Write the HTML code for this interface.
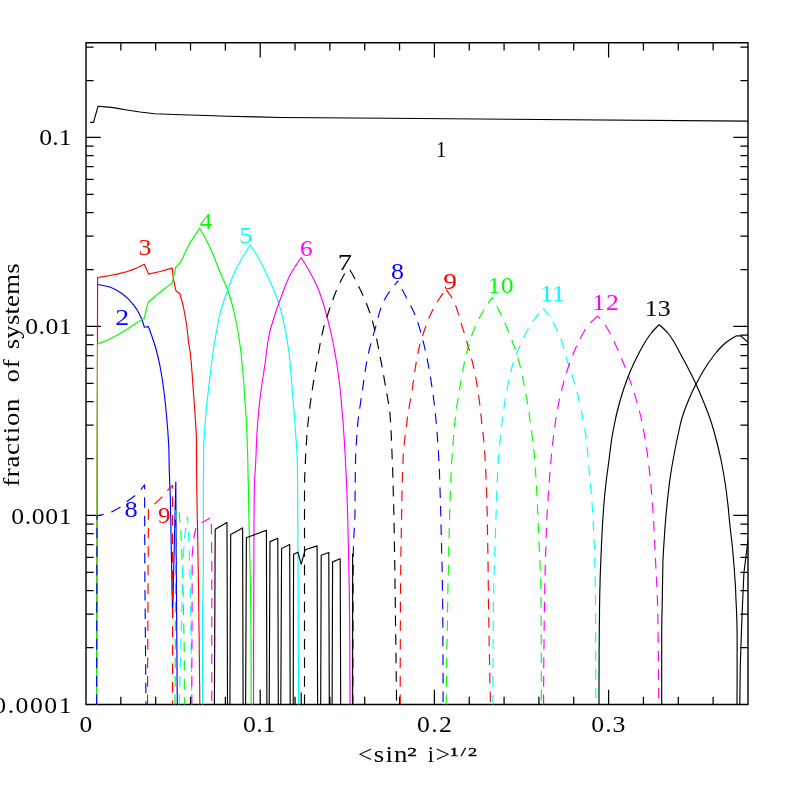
<!DOCTYPE html>
<html><head><meta charset="utf-8"><title>plot</title>
<style>html,body{margin:0;padding:0;background:#fff;width:789px;height:789px;overflow:hidden}svg{display:block;position:absolute;left:0;top:0}text{font-family:"Liberation Serif",serif;font-kerning:none;white-space:pre}</style></head>
<body>
<svg width="789" height="789" viewBox="0 0 789 789">
<rect x="0" y="0" width="789" height="789" fill="#fff"/>
<defs><clipPath id="c"><rect x="86" y="42.8" width="662" height="661.65"/></clipPath></defs>
<rect x="86" y="42.8" width="662" height="661.65" fill="none" stroke="#000" stroke-width="1.4" stroke-linejoin="round"/>
<path d="M120.84 704.45L120.84 696.85M120.84 42.80L120.84 50.40M155.68 704.45L155.68 696.85M155.68 42.80L155.68 50.40M190.52 704.45L190.52 696.85M190.52 42.80L190.52 50.40M225.36 704.45L225.36 696.85M225.36 42.80L225.36 50.40M260.20 704.45L260.20 689.65M260.20 42.80L260.20 57.60M295.04 704.45L295.04 696.85M295.04 42.80L295.04 50.40M329.88 704.45L329.88 696.85M329.88 42.80L329.88 50.40M364.72 704.45L364.72 696.85M364.72 42.80L364.72 50.40M399.56 704.45L399.56 696.85M399.56 42.80L399.56 50.40M434.40 704.45L434.40 689.65M434.40 42.80L434.40 57.60M469.24 704.45L469.24 696.85M469.24 42.80L469.24 50.40M504.08 704.45L504.08 696.85M504.08 42.80L504.08 50.40M538.92 704.45L538.92 696.85M538.92 42.80L538.92 50.40M573.76 704.45L573.76 696.85M573.76 42.80L573.76 50.40M608.60 704.45L608.60 689.65M608.60 42.80L608.60 57.60M643.44 704.45L643.44 696.85M643.44 42.80L643.44 50.40M678.28 704.45L678.28 696.85M678.28 42.80L678.28 50.40M713.12 704.45L713.12 696.85M713.12 42.80L713.12 50.40M86.00 647.51L93.60 647.51M748.00 647.51L740.40 647.51M86.00 614.22L93.60 614.22M748.00 614.22L740.40 614.22M86.00 590.61L93.60 590.61M748.00 590.61L740.40 590.61M86.00 572.29L93.60 572.29M748.00 572.29L740.40 572.29M86.00 557.33L93.60 557.33M748.00 557.33L740.40 557.33M86.00 544.68L93.60 544.68M748.00 544.68L740.40 544.68M86.00 533.72L93.60 533.72M748.00 533.72L740.40 533.72M86.00 524.05L93.60 524.05M748.00 524.05L740.40 524.05M86.00 515.40L100.80 515.40M748.00 515.40L733.20 515.40M86.00 458.51L93.60 458.51M748.00 458.51L740.40 458.51M86.00 425.22L93.60 425.22M748.00 425.22L740.40 425.22M86.00 401.61L93.60 401.61M748.00 401.61L740.40 401.61M86.00 383.29L93.60 383.29M748.00 383.29L740.40 383.29M86.00 368.33L93.60 368.33M748.00 368.33L740.40 368.33M86.00 355.68L93.60 355.68M748.00 355.68L740.40 355.68M86.00 344.72L93.60 344.72M748.00 344.72L740.40 344.72M86.00 335.05L93.60 335.05M748.00 335.05L740.40 335.05M86.00 326.40L100.80 326.40M748.00 326.40L733.20 326.40M86.00 269.51L93.60 269.51M748.00 269.51L740.40 269.51M86.00 236.22L93.60 236.22M748.00 236.22L740.40 236.22M86.00 212.61L93.60 212.61M748.00 212.61L740.40 212.61M86.00 194.29L93.60 194.29M748.00 194.29L740.40 194.29M86.00 179.33L93.60 179.33M748.00 179.33L740.40 179.33M86.00 166.68L93.60 166.68M748.00 166.68L740.40 166.68M86.00 155.72L93.60 155.72M748.00 155.72L740.40 155.72M86.00 146.05L93.60 146.05M748.00 146.05L740.40 146.05M86.00 137.40L100.80 137.40M748.00 137.40L733.20 137.40M86.00 80.51L93.60 80.51M748.00 80.51L740.40 80.51M86.00 47.22L93.60 47.22M748.00 47.22L740.40 47.22" stroke="#000" stroke-width="1.25" fill="none"/>
<g clip-path="url(#c)">
<path d="M90.1 122.3L93.5 122.3L98.0 106.3L103.0 106.6L113.2 107.6L128.4 110.2L140.0 112.0L154.8 113.8L181.4 114.7L206.7 115.5L227.0 116.2L257.4 116.9L280.0 117.5L389.0 118.3L748.5 121.2" stroke="#000000" stroke-width="1.15" fill="none" stroke-linejoin="round"/>
<path d="M97.7 284.5L101.9 285.2L108.8 286.7L112.8 288.2L115.8 289.7L118.3 291.2L120.7 292.7L122.8 294.2L124.7 295.7L126.4 297.2L129.4 300.2L132.0 303.2L134.5 306.2L136.6 309.2L138.4 312.2L139.9 315.2L141.3 318.2L142.4 321.2L143.5 324.2L144.3 327.2L148.4 326.6L148.7 327.5L149.3 329.0L149.9 330.5L150.4 332.0L150.9 333.5L151.5 335.0L152.0 336.5L152.5 338.0L153.0 339.5L153.5 341.0L154.5 344.0L155.4 347.0L156.2 350.0L157.0 353.0L157.8 356.0L158.5 359.0L159.1 362.0L159.8 365.0L160.3 368.0L160.9 371.0L161.4 374.0L161.9 377.0L162.4 380.0L162.8 383.0L163.6 389.0L164.4 395.0L165.1 401.0L165.7 407.0L166.3 413.0L166.8 419.0L167.3 425.0L167.8 431.0L168.2 437.0L168.6 443.0L168.9 449.0L169.0 455.0L169.1 461.0L169.2 467.0L169.4 473.0L169.6 479.0L169.8 485.0L170.1 491.0L170.3 497.0L170.4 503.0L170.5 509.0L170.6 515.0L170.8 521.0L170.9 527.0L171.0 533.0L171.1 539.0L171.2 545.0L171.3 551.0L171.4 557.0L171.6 563.0L171.7 569.0L171.8 575.0L171.9 581.0L172.0 587.0L172.1 593.0L172.3 599.0L172.4 605.0L172.5 611.0L172.6 617.0L175.8 482.0L176.6 610.0L177.3 706.0" stroke="#0000ff" stroke-width="1.15" fill="none" stroke-linejoin="round"/>
<path d="M96.6 706.0L97.6 277.5L104.0 276.6L110.0 275.5L118.0 273.9L126.5 271.7L132.0 269.9L138.0 267.5L144.3 264.3L148.6 274.1L160.0 271.5L172.3 268.1L173.4 279.1L175.9 290.7L180.0 294.0L180.3 295.0L180.7 296.5L181.1 298.0L181.5 299.5L181.9 301.0L182.3 302.5L182.7 304.0L183.0 305.5L183.4 307.0L184.0 310.0L184.6 313.0L185.1 316.0L185.7 319.0L186.1 322.0L186.6 325.0L187.0 328.0L187.4 331.0L187.7 334.0L188.0 337.0L188.3 340.0L188.7 343.0L189.1 346.0L189.7 349.0L190.2 352.0L190.8 358.0L191.4 364.0L191.8 370.0L192.3 376.0L192.7 382.0L193.1 388.0L193.6 394.0L194.0 400.0L194.5 406.0L194.9 412.0L195.3 418.0L195.7 424.0L196.0 430.0L196.3 436.0L196.5 442.0L196.5 448.0L196.5 454.0L196.6 460.0L196.6 466.0L196.6 472.0L196.7 478.0L196.7 484.0L196.8 490.0L196.9 496.0L197.0 502.0L197.1 508.0L197.2 514.0L197.3 520.0L197.5 526.0L197.6 532.0L197.7 538.0L197.8 544.0L197.9 550.0L198.0 556.0L198.1 562.0L198.2 568.0L198.3 574.0L198.4 580.0L198.5 586.0L198.5 592.0L198.6 598.0L198.7 604.0L198.8 610.0L198.9 616.0L198.9 622.0L199.0 628.0L199.1 634.0L199.2 640.0L199.2 646.0L199.3 652.0L199.4 658.0L199.4 664.0L199.5 670.0L199.5 676.0L199.6 682.0L199.7 688.0L199.7 694.0L199.8 700.0L199.8 706.0" stroke="#ff0000" stroke-width="1.15" fill="none" stroke-linejoin="round"/>
<path d="M96.6 706.0L97.5 343.9L108.5 339.7L117.4 335.0L127.5 328.9L137.0 322.6L144.3 318.2L148.2 302.2L156.0 295.5L165.5 288.0L172.3 282.9L175.6 267.3L180.5 262.3L189.3 243.9L199.8 228.1L200.3 229.0L201.2 230.5L202.0 232.0L202.8 233.5L203.6 235.0L204.4 236.5L205.2 238.0L206.0 239.5L206.8 241.0L208.3 244.0L209.7 247.0L211.1 250.0L212.4 253.0L213.6 256.0L214.8 259.0L216.0 262.0L217.2 265.0L218.4 268.0L219.6 271.0L220.8 274.0L222.1 277.0L223.5 280.0L224.8 283.0L226.2 286.0L228.4 292.0L230.3 298.0L232.0 304.0L233.6 310.0L234.9 316.0L236.2 322.0L237.3 328.0L238.4 334.0L239.3 340.0L240.1 346.0L240.9 352.0L241.5 358.0L242.1 364.0L242.7 370.0L243.2 376.0L243.7 382.0L244.1 388.0L244.5 394.0L244.9 400.0L245.3 406.0L245.7 412.0L246.1 418.0L246.4 424.0L246.8 430.0L247.0 436.0L247.2 442.0L247.4 448.0L247.6 454.0L247.8 460.0L247.9 466.0L248.0 472.0L248.1 478.0L248.3 484.0L248.4 490.0L248.5 496.0L248.6 502.0L248.7 508.0L248.8 514.0L249.0 520.0L249.1 526.0L249.3 532.0L249.4 538.0L249.6 544.0L249.7 550.0L249.8 556.0L250.0 562.0L250.1 568.0L250.2 574.0L250.3 580.0L250.4 586.0L250.5 592.0L250.6 598.0L250.7 604.0L250.8 610.0L250.8 616.0L250.9 622.0L250.9 628.0L251.0 634.0L251.0 640.0L251.0 646.0L251.0 652.0L251.0 658.0L251.1 664.0L251.1 670.0L251.1 676.0L251.1 682.0L251.1 688.0L251.1 694.0L251.1 700.0L251.1 706.0" stroke="#00ff00" stroke-width="1.15" fill="none" stroke-linejoin="round"/>
<path d="M202.5 706.0L202.5 700.0L202.5 694.0L202.5 688.0L202.5 682.0L202.5 676.0L202.5 670.0L202.5 664.0L202.5 658.0L202.5 652.0L202.5 646.0L202.5 640.0L202.5 634.0L202.5 628.0L202.5 622.0L202.5 616.0L202.6 610.0L202.7 604.0L202.8 598.0L202.9 592.0L203.0 586.0L203.1 580.0L203.2 574.0L203.2 568.0L203.2 562.0L203.3 556.0L203.3 550.0L203.3 544.0L203.3 538.0L203.3 532.0L203.3 526.0L203.4 520.0L203.4 514.0L203.4 508.0L203.4 502.0L203.4 496.0L203.4 490.0L203.4 484.0L203.5 478.0L203.5 472.0L203.5 466.0L203.5 460.0L203.6 454.0L203.7 448.0L203.9 442.0L204.3 436.0L204.6 430.0L205.1 424.0L205.5 418.0L206.0 412.0L206.6 406.0L207.3 400.0L208.0 394.0L208.6 388.0L209.3 382.0L210.0 376.0L210.7 370.0L211.5 364.0L212.3 358.0L213.1 352.0L214.0 346.0L215.0 340.0L216.0 334.0L217.1 328.0L218.2 322.0L219.5 316.0L221.0 310.0L222.8 304.0L223.8 301.0L224.8 298.0L225.9 295.0L227.0 292.0L228.1 289.0L229.2 286.0L230.2 283.0L231.3 280.0L232.5 277.0L233.7 274.0L235.1 271.0L236.5 268.0L238.1 265.0L239.8 262.0L241.5 259.0L242.4 257.5L243.3 256.0L244.2 254.5L245.1 253.0L246.0 251.5L247.0 250.0L248.0 248.5L249.0 247.0L250.0 245.5L250.3 245.0L250.6 245.5L251.6 247.0L252.6 248.5L253.6 250.0L254.5 251.5L255.5 253.0L256.4 254.5L257.3 256.0L258.1 257.5L259.0 259.0L260.6 262.0L262.2 265.0L263.7 268.0L265.2 271.0L266.6 274.0L268.0 277.0L269.3 280.0L270.7 283.0L272.0 286.0L273.3 289.0L274.6 292.0L275.8 295.0L276.9 298.0L278.0 301.0L278.9 304.0L280.7 310.0L282.3 316.0L283.7 322.0L284.9 328.0L286.1 334.0L287.1 340.0L288.0 346.0L288.9 352.0L289.6 358.0L290.2 364.0L290.7 370.0L291.2 376.0L291.7 382.0L292.1 388.0L292.6 394.0L293.1 400.0L293.6 406.0L294.1 412.0L294.6 418.0L295.0 424.0L295.4 430.0L295.8 436.0L296.3 442.0L296.7 448.0L297.0 454.0L297.3 460.0L297.4 466.0L297.5 472.0L297.5 478.0L297.6 484.0L297.6 490.0L297.7 496.0L297.7 502.0L297.8 508.0L297.8 514.0L297.8 520.0L297.9 526.0L297.9 532.0L297.9 538.0L297.9 544.0L298.0 550.0L298.0 556.0L298.0 562.0L298.0 568.0L298.0 574.0L298.1 580.0L298.1 586.0L298.1 592.0L298.1 598.0L298.2 604.0L298.2 610.0L298.2 616.0L298.2 622.0L298.3 628.0L298.3 634.0L298.3 640.0L298.3 646.0L298.3 652.0L298.4 658.0L298.4 664.0L298.4 670.0L298.4 676.0L298.4 682.0L298.5 688.0L298.5 694.0L298.5 700.0L298.5 706.0" stroke="#00ffff" stroke-width="1.15" fill="none" stroke-linejoin="round"/>
<path d="M253.5 706.0L253.5 700.0L253.5 694.0L253.5 688.0L253.5 682.0L253.6 676.0L253.6 670.0L253.6 664.0L253.6 658.0L253.6 652.0L253.6 646.0L253.6 640.0L253.7 634.0L253.7 628.0L253.7 622.0L253.7 616.0L253.7 610.0L253.8 604.0L253.8 598.0L253.8 592.0L253.8 586.0L253.8 580.0L253.8 574.0L253.9 568.0L253.9 562.0L253.9 556.0L253.9 550.0L253.9 544.0L254.0 538.0L254.0 532.0L254.0 526.0L254.0 520.0L254.1 514.0L254.1 508.0L254.2 502.0L254.2 496.0L254.3 490.0L254.4 484.0L254.7 478.0L255.1 472.0L255.5 466.0L255.8 460.0L256.1 454.0L256.3 448.0L256.6 442.0L256.8 436.0L257.2 430.0L257.6 424.0L258.1 418.0L258.6 412.0L259.2 406.0L259.9 400.0L260.6 394.0L261.4 388.0L262.2 382.0L263.2 376.0L264.1 370.0L265.0 364.0L265.8 358.0L266.5 352.0L267.3 346.0L268.2 340.0L269.3 334.0L270.8 328.0L272.6 322.0L274.5 316.0L275.4 313.0L276.4 310.0L277.5 307.0L278.5 304.0L279.6 301.0L280.8 298.0L281.9 295.0L283.0 292.0L284.1 289.0L285.2 286.0L286.5 283.0L287.7 280.0L289.1 277.0L290.7 274.0L292.4 271.0L293.2 269.5L294.2 268.0L295.1 266.5L296.1 265.0L297.1 263.5L298.1 262.0L299.1 260.5L300.2 259.0L301.2 257.6L302.1 259.0L303.1 260.5L304.0 262.0L304.9 263.5L305.8 265.0L306.7 266.5L307.6 268.0L308.5 269.5L309.3 271.0L310.9 274.0L312.6 277.0L314.1 280.0L315.6 283.0L317.0 286.0L318.2 289.0L319.4 292.0L320.5 295.0L321.5 298.0L322.5 301.0L323.4 304.0L324.3 307.0L325.2 310.0L326.0 313.0L326.8 316.0L328.4 322.0L329.9 328.0L331.2 334.0L332.5 340.0L333.7 346.0L334.8 352.0L335.8 358.0L336.8 364.0L337.7 370.0L338.5 376.0L339.3 382.0L340.0 388.0L340.6 394.0L341.2 400.0L341.7 406.0L342.2 412.0L342.7 418.0L343.2 424.0L343.6 430.0L344.0 436.0L344.4 442.0L344.7 448.0L345.1 454.0L345.4 460.0L345.7 466.0L346.0 472.0L346.3 478.0L346.6 484.0L346.8 490.0L347.0 496.0L347.2 502.0L347.4 508.0L347.6 514.0L347.8 520.0L347.9 526.0L348.0 532.0L348.2 538.0L348.3 544.0L348.4 550.0L348.6 556.0L348.7 562.0L348.8 568.0L349.0 574.0L349.1 580.0L349.2 586.0L349.3 592.0L349.4 598.0L349.4 604.0L349.5 610.0L349.6 616.0L349.6 622.0L349.7 628.0L349.7 634.0L349.8 640.0L349.8 646.0L349.8 652.0L349.9 658.0L349.9 664.0L349.9 670.0L349.9 676.0L350.0 682.0L350.0 688.0L350.0 694.0L350.0 700.0L350.0 706.0" stroke="#ff00ff" stroke-width="1.15" fill="none" stroke-linejoin="round"/>
<path d="M304.5 705.2L304.5 699.2L304.5 693.2L304.5 687.2L304.5 681.2L304.5 675.2L304.5 669.2L304.5 663.2L304.5 657.2L304.5 651.2L304.5 645.2L304.5 639.2L304.5 633.2L304.5 627.2L304.5 621.2L304.5 615.2L304.5 609.2L304.5 603.2L304.5 597.2L304.5 591.2L304.5 585.2L304.5 579.2L304.5 573.2L304.5 567.2L304.5 561.2L304.5 555.2L304.5 549.2L304.5 543.2L304.5 537.2L304.5 531.2L304.5 525.2L304.5 519.2L304.5 513.2L304.5 507.2L304.5 501.2L304.5 495.2L304.5 489.2L304.6 483.2L304.7 477.2L305.0 471.2L305.2 465.2L305.5 459.2L305.7 453.2L306.1 447.2L306.5 441.2L306.9 435.2L307.4 429.2L308.0 423.2L308.6 417.2L309.3 411.2L310.1 405.2L310.9 399.2L311.8 393.2L312.7 387.2L313.6 381.2L314.6 375.2L315.7 369.2L316.7 363.2L317.8 357.2L318.8 351.2L319.9 345.2L321.0 339.2L322.3 333.2L323.7 327.2L325.5 321.2L326.4 318.2L327.5 315.2L328.5 312.2L329.5 309.2L330.5 306.2L331.6 303.2L332.7 300.2L333.8 297.2L334.9 294.2L336.1 291.2L337.4 288.2L338.7 285.2L340.1 282.2L341.6 279.2L342.4 277.8L343.2 276.2L344.0 274.8L344.8 273.2L345.6 271.8L346.4 270.2L347.3 268.8L348.2 267.2L348.3 267.0" stroke="#000000" stroke-width="1.15" fill="none" stroke-linejoin="round" stroke-dasharray="10.6 7.95" stroke-dashoffset="0"/>
<path d="M396.6 705.2L396.5 699.2L396.5 693.2L396.4 687.2L396.3 681.2L396.2 675.2L396.2 669.2L396.1 663.2L396.0 657.2L395.9 651.2L395.8 645.2L395.8 639.2L395.7 633.2L395.6 627.2L395.5 621.2L395.4 615.2L395.4 609.2L395.3 603.2L395.2 597.2L395.1 591.2L395.0 585.2L395.0 579.2L394.9 573.2L394.8 567.2L394.7 561.2L394.6 555.2L394.5 549.2L394.4 543.2L394.3 537.2L394.2 531.2L394.1 525.2L394.0 519.2L393.9 513.2L393.7 507.2L393.6 501.2L393.4 495.2L393.2 489.2L393.1 483.2L392.9 477.2L392.7 471.2L392.5 465.2L392.2 459.2L392.0 453.2L391.8 447.2L391.5 441.2L391.3 435.2L391.0 429.2L390.6 423.2L390.2 417.2L389.7 411.2L388.9 405.2L387.8 399.2L386.7 393.2L385.7 387.2L384.6 381.2L383.6 375.2L382.5 369.2L381.4 363.2L380.2 357.2L379.0 351.2L377.9 345.2L376.7 339.2L375.4 333.2L374.0 327.2L372.5 321.2L371.6 318.2L370.7 315.2L369.7 312.2L368.6 309.2L367.5 306.2L366.3 303.2L365.1 300.2L363.8 297.2L362.4 294.2L361.1 291.2L359.6 288.2L358.2 285.2L356.7 282.2L355.1 279.2L354.3 277.8L353.5 276.2L352.7 274.8L351.9 273.2L351.0 271.8L350.2 270.2L349.3 268.8L348.4 267.2L348.3 267.0" stroke="#000000" stroke-width="1.15" fill="none" stroke-linejoin="round" stroke-dasharray="10.6 7.95" stroke-dashoffset="13.75"/>
<path d="M352.9 705.2L352.9 699.2L352.9 693.2L352.9 687.2L352.9 681.2L352.9 675.2L352.9 669.2L352.9 663.2L352.9 657.2L352.9 651.2L353.0 645.2L353.0 639.2L353.0 633.2L353.0 627.2L353.0 621.2L353.0 615.2L353.1 609.2L353.1 603.2L353.1 597.2L353.1 591.2L353.2 585.2L353.2 579.2L353.2 573.2L353.3 567.2L353.3 561.2L353.3 555.2L353.4 549.2L353.5 543.2L353.8 537.2L354.2 531.2L354.5 525.2L354.8 519.2L355.0 513.2L355.0 507.2L355.1 501.2L355.1 495.2L355.2 489.2L355.2 483.2L355.3 477.2L355.3 471.2L355.4 465.2L355.6 459.2L355.8 453.2L356.1 447.2L356.5 441.2L356.9 435.2L357.3 429.2L357.8 423.2L358.5 417.2L359.3 411.2L360.2 405.2L361.1 399.2L362.0 393.2L362.9 387.2L363.7 381.2L364.6 375.2L365.5 369.2L366.5 363.2L367.6 357.2L368.9 351.2L370.4 345.2L372.1 339.2L373.0 336.2L373.9 333.2L374.7 330.2L375.6 327.2L376.4 324.2L377.1 321.2L377.9 318.2L378.7 315.2L379.6 312.2L380.5 309.2L381.6 306.2L382.8 303.2L384.2 300.2L385.9 297.2L387.8 294.2L388.8 292.8L389.8 291.2L390.9 289.8L392.1 288.2L393.2 286.8L394.4 285.2L395.7 283.8L396.9 282.2L398.0 281.0" stroke="#0000ff" stroke-width="1.15" fill="none" stroke-linejoin="round" stroke-dasharray="10.6 7.95" stroke-dashoffset="0"/>
<path d="M443.1 705.2L443.1 699.2L443.1 693.2L443.1 687.2L443.1 681.2L443.1 675.2L443.0 669.2L443.0 663.2L443.0 657.2L443.0 651.2L442.9 645.2L442.9 639.2L442.9 633.2L442.8 627.2L442.8 621.2L442.8 615.2L442.7 609.2L442.7 603.2L442.6 597.2L442.5 591.2L442.4 585.2L442.3 579.2L442.2 573.2L442.1 567.2L441.9 561.2L441.8 555.2L441.6 549.2L441.5 543.2L441.3 537.2L441.2 531.2L441.0 525.2L440.9 519.2L440.7 513.2L440.6 507.2L440.4 501.2L440.2 495.2L440.0 489.2L439.8 483.2L439.6 477.2L439.4 471.2L439.1 465.2L438.8 459.2L438.5 453.2L438.1 447.2L437.7 441.2L437.3 435.2L436.8 429.2L436.3 423.2L435.7 417.2L435.1 411.2L434.4 405.2L433.7 399.2L432.9 393.2L432.0 387.2L431.1 381.2L430.2 375.2L429.1 369.2L428.0 363.2L426.8 357.2L425.5 351.2L424.1 345.2L422.6 339.2L421.9 336.2L421.1 333.2L420.2 330.2L419.3 327.2L418.4 324.2L417.4 321.2L416.4 318.2L415.2 315.2L413.9 312.2L412.5 309.2L411.0 306.2L409.4 303.2L407.8 300.2L406.2 297.2L404.7 294.2L403.9 292.8L403.2 291.2L402.4 289.8L401.7 288.2L400.9 286.8L400.1 285.2L399.4 283.8L398.6 282.2L398.0 281.0" stroke="#0000ff" stroke-width="1.15" fill="none" stroke-linejoin="round" stroke-dasharray="10.6 7.95" stroke-dashoffset="15.35"/>
<path d="M400.2 705.2L400.2 699.2L400.2 693.2L400.2 687.2L400.2 681.2L400.2 675.2L400.2 669.2L400.2 663.2L400.3 657.2L400.3 651.2L400.3 645.2L400.3 639.2L400.3 633.2L400.3 627.2L400.4 621.2L400.4 615.2L400.4 609.2L400.4 603.2L400.5 597.2L400.5 591.2L400.6 585.2L400.6 579.2L400.7 573.2L400.8 567.2L400.8 561.2L400.9 555.2L401.0 549.2L401.1 543.2L401.2 537.2L401.3 531.2L401.4 525.2L401.6 519.2L401.7 513.2L401.8 507.2L401.9 501.2L402.0 495.2L402.1 489.2L402.3 483.2L402.4 477.2L402.6 471.2L402.8 465.2L403.1 459.2L403.4 453.2L403.9 447.2L404.5 441.2L405.2 435.2L406.0 429.2L406.8 423.2L407.5 417.2L408.4 411.2L409.5 405.2L410.6 399.2L411.6 393.2L412.6 387.2L413.4 381.2L414.3 375.2L415.1 369.2L416.1 363.2L417.1 357.2L418.3 351.2L419.7 345.2L420.6 342.2L421.5 339.2L422.4 336.2L423.4 333.2L424.4 330.2L425.5 327.2L426.5 324.2L427.7 321.2L428.9 318.2L430.2 315.2L431.6 312.2L433.1 309.2L434.7 306.2L436.4 303.2L437.3 301.8L438.3 300.2L439.3 298.8L440.3 297.2L441.3 295.8L442.4 294.2L443.5 292.8L444.7 291.2L445.8 289.8L446.0 289.5" stroke="#ff0000" stroke-width="1.15" fill="none" stroke-linejoin="round" stroke-dasharray="10.6 7.95" stroke-dashoffset="0"/>
<path d="M490.4 705.2L490.3 699.2L490.2 693.2L490.0 687.2L489.9 681.2L489.8 675.2L489.7 669.2L489.6 663.2L489.5 657.2L489.3 651.2L489.2 645.2L489.1 639.2L489.0 633.2L488.9 627.2L488.8 621.2L488.7 615.2L488.6 609.2L488.5 603.2L488.4 597.2L488.4 591.2L488.3 585.2L488.2 579.2L488.1 573.2L488.1 567.2L488.0 561.2L487.9 555.2L487.8 549.2L487.7 543.2L487.6 537.2L487.5 531.2L487.4 525.2L487.3 519.2L487.2 513.2L487.0 507.2L486.9 501.2L486.7 495.2L486.5 489.2L486.3 483.2L486.0 477.2L485.8 471.2L485.5 465.2L485.2 459.2L484.8 453.2L484.3 447.2L483.8 441.2L483.2 435.2L482.5 429.2L481.8 423.2L481.2 417.2L480.5 411.2L479.9 405.2L479.1 399.2L478.3 393.2L477.4 387.2L476.4 381.2L475.3 375.2L474.1 369.2L472.7 363.2L471.1 357.2L469.5 351.2L467.8 345.2L467.0 342.2L466.1 339.2L465.2 336.2L464.3 333.2L463.3 330.2L462.4 327.2L461.4 324.2L460.5 321.2L459.6 318.2L458.8 315.2L457.9 312.2L456.9 309.2L455.9 306.2L454.7 303.2L454.0 301.8L453.3 300.2L452.5 298.8L451.6 297.2L450.7 295.8L449.6 294.2L448.5 292.8L447.4 291.2L446.2 289.8L446.0 289.5" stroke="#ff0000" stroke-width="1.15" fill="none" stroke-linejoin="round" stroke-dasharray="10.6 7.95" stroke-dashoffset="15.35"/>
<path d="M446.2 705.2L446.3 699.2L446.3 693.2L446.4 687.2L446.5 681.2L446.6 675.2L446.6 669.2L446.7 663.2L446.8 657.2L446.9 651.2L447.0 645.2L447.1 639.2L447.2 633.2L447.3 627.2L447.4 621.2L447.5 615.2L447.6 609.2L447.7 603.2L447.8 597.2L447.9 591.2L448.0 585.2L448.1 579.2L448.3 573.2L448.4 567.2L448.5 561.2L448.7 555.2L448.8 549.2L448.9 543.2L449.1 537.2L449.2 531.2L449.4 525.2L449.5 519.2L449.7 513.2L449.9 507.2L450.1 501.2L450.3 495.2L450.5 489.2L450.7 483.2L450.9 477.2L451.2 471.2L451.5 465.2L451.9 459.2L452.3 453.2L452.7 447.2L453.2 441.2L453.7 435.2L454.2 429.2L454.8 423.2L455.4 417.2L456.2 411.2L457.0 405.2L458.0 399.2L458.9 393.2L459.9 387.2L460.9 381.2L461.9 375.2L463.1 369.2L464.3 363.2L465.6 357.2L466.3 354.2L467.0 351.2L467.8 348.2L468.7 345.2L469.5 342.2L470.5 339.2L471.5 336.2L472.6 333.2L473.7 330.2L475.0 327.2L476.3 324.2L477.8 321.2L479.2 318.2L480.8 315.2L482.5 312.2L483.4 310.8L484.3 309.2L485.2 307.8L486.2 306.2L487.2 304.8L488.2 303.2L489.2 301.8L490.3 300.2L491.4 298.8L492.3 297.5" stroke="#00ff00" stroke-width="1.15" fill="none" stroke-linejoin="round" stroke-dasharray="10.6 7.95" stroke-dashoffset="0"/>
<path d="M541.3 705.2L541.3 699.2L541.3 693.2L541.3 687.2L541.3 681.2L541.3 675.2L541.3 669.2L541.3 663.2L541.3 657.2L541.2 651.2L541.2 645.2L541.2 639.2L541.2 633.2L541.2 627.2L541.2 621.2L541.1 615.2L541.1 609.2L541.1 603.2L541.0 597.2L540.9 591.2L540.8 585.2L540.6 579.2L540.4 573.2L540.1 567.2L539.9 561.2L539.6 555.2L539.4 549.2L539.1 543.2L538.8 537.2L538.6 531.2L538.3 525.2L538.1 519.2L537.8 513.2L537.5 507.2L537.3 501.2L537.0 495.2L536.6 489.2L536.3 483.2L535.9 477.2L535.6 471.2L535.1 465.2L534.7 459.2L534.2 453.2L533.5 447.2L532.8 441.2L532.1 435.2L531.3 429.2L530.4 423.2L529.6 417.2L528.7 411.2L527.8 405.2L526.8 399.2L525.7 393.2L524.6 387.2L523.4 381.2L522.2 375.2L520.8 369.2L519.4 363.2L517.7 357.2L516.8 354.2L515.8 351.2L514.8 348.2L513.7 345.2L512.6 342.2L511.5 339.2L510.3 336.2L509.1 333.2L507.9 330.2L506.7 327.2L505.4 324.2L504.0 321.2L502.7 318.2L501.3 315.2L499.8 312.2L499.1 310.8L498.4 309.2L497.7 307.8L496.9 306.2L496.1 304.8L495.4 303.2L494.6 301.8L493.8 300.2L493.0 298.8L492.3 297.5" stroke="#00ff00" stroke-width="1.15" fill="none" stroke-linejoin="round" stroke-dasharray="10.6 7.95" stroke-dashoffset="13.75"/>
<path d="M492.9 705.2L492.9 699.2L492.9 693.2L492.9 687.2L492.9 681.2L493.0 675.2L493.0 669.2L493.0 663.2L493.0 657.2L493.1 651.2L493.1 645.2L493.1 639.2L493.2 633.2L493.2 627.2L493.3 621.2L493.3 615.2L493.4 609.2L493.4 603.2L493.5 597.2L493.7 591.2L493.8 585.2L493.9 579.2L494.1 573.2L494.3 567.2L494.5 561.2L494.7 555.2L494.9 549.2L495.1 543.2L495.3 537.2L495.5 531.2L495.7 525.2L495.9 519.2L496.1 513.2L496.3 507.2L496.5 501.2L496.7 495.2L496.9 489.2L497.2 483.2L497.4 477.2L497.7 471.2L498.0 465.2L498.4 459.2L498.9 453.2L499.4 447.2L500.0 441.2L500.6 435.2L501.2 429.2L501.9 423.2L502.6 417.2L503.4 411.2L504.3 405.2L505.3 399.2L506.3 393.2L507.4 387.2L508.6 381.2L509.9 375.2L511.4 369.2L513.1 363.2L514.1 360.2L515.2 357.2L516.4 354.2L517.6 351.2L518.9 348.2L520.2 345.2L521.5 342.2L522.9 339.2L524.3 336.2L525.8 333.2L527.4 330.2L529.1 327.2L531.0 324.2L533.0 321.2L534.0 319.8L535.1 318.2L536.2 316.8L537.4 315.2L538.6 313.8L539.8 312.2L541.0 310.8L542.3 309.2L543.2 308.2" stroke="#00ffff" stroke-width="1.15" fill="none" stroke-linejoin="round" stroke-dasharray="10.6 7.95" stroke-dashoffset="0"/>
<path d="M595.8 705.2L595.8 699.2L595.8 693.2L595.8 687.2L595.8 681.2L595.8 675.2L595.8 669.2L595.8 663.2L595.7 657.2L595.7 651.2L595.7 645.2L595.7 639.2L595.7 633.2L595.7 627.2L595.6 621.2L595.6 615.2L595.6 609.2L595.5 603.2L595.5 597.2L595.4 591.2L595.3 585.2L595.2 579.2L595.1 573.2L594.9 567.2L594.8 561.2L594.6 555.2L594.4 549.2L594.2 543.2L593.9 537.2L593.6 531.2L593.3 525.2L593.0 519.2L592.6 513.2L592.3 507.2L591.9 501.2L591.4 495.2L590.9 489.2L590.3 483.2L589.8 477.2L589.3 471.2L588.7 465.2L588.2 459.2L587.7 453.2L587.2 447.2L586.6 441.2L585.8 435.2L584.8 429.2L583.8 423.2L582.6 417.2L581.4 411.2L580.2 405.2L578.7 399.2L577.2 393.2L575.6 387.2L573.9 381.2L572.1 375.2L570.1 369.2L568.1 363.2L567.1 360.2L566.2 357.2L565.3 354.2L564.5 351.2L563.8 348.2L563.0 345.2L562.1 342.2L561.0 339.2L559.8 336.2L558.6 333.2L557.2 330.2L555.7 327.2L554.1 324.2L552.5 321.2L551.6 319.8L550.7 318.2L549.7 316.8L548.6 315.2L547.5 313.8L546.4 312.2L545.2 310.8L544.0 309.2L543.2 308.2" stroke="#00ffff" stroke-width="1.15" fill="none" stroke-linejoin="round" stroke-dasharray="10.6 7.95" stroke-dashoffset="11.45"/>
<path d="M543.6 705.2L543.6 699.2L543.6 693.2L543.6 687.2L543.7 681.2L543.7 675.2L543.7 669.2L543.8 663.2L543.8 657.2L543.9 651.2L544.0 645.2L544.0 639.2L544.1 633.2L544.2 627.2L544.2 621.2L544.3 615.2L544.4 609.2L544.5 603.2L544.6 597.2L544.7 591.2L544.8 585.2L544.9 579.2L545.1 573.2L545.2 567.2L545.4 561.2L545.6 555.2L545.8 549.2L546.0 543.2L546.2 537.2L546.4 531.2L546.7 525.2L546.9 519.2L547.2 513.2L547.5 507.2L547.9 501.2L548.3 495.2L548.7 489.2L549.1 483.2L549.6 477.2L550.1 471.2L550.5 465.2L551.1 459.2L551.6 453.2L552.2 447.2L552.9 441.2L553.6 435.2L554.4 429.2L555.2 423.2L556.1 417.2L557.2 411.2L558.3 405.2L559.5 399.2L560.9 393.2L562.4 387.2L564.0 381.2L565.7 375.2L566.6 372.2L567.6 369.2L568.6 366.2L569.6 363.2L570.7 360.2L571.9 357.2L573.1 354.2L574.3 351.2L575.6 348.2L577.0 345.2L578.4 342.2L579.9 339.2L581.4 336.2L583.1 333.2L584.9 330.2L585.9 328.8L586.9 327.2L588.0 325.8L589.2 324.2L590.6 322.8L592.0 321.2L593.5 319.8L595.1 318.2L596.8 316.8L597.6 316.0" stroke="#ff00ff" stroke-width="1.15" fill="none" stroke-linejoin="round" stroke-dasharray="10.6 7.95" stroke-dashoffset="0"/>
<path d="M658.7 705.2L658.7 699.2L658.7 693.2L658.7 687.2L658.6 681.2L658.6 675.2L658.5 669.2L658.5 663.2L658.4 657.2L658.3 651.2L658.2 645.2L658.2 639.2L658.1 633.2L658.0 627.2L657.9 621.2L657.8 615.2L657.6 609.2L657.5 603.2L657.3 597.2L657.0 591.2L656.8 585.2L656.5 579.2L656.2 573.2L655.9 567.2L655.6 561.2L655.3 555.2L655.0 549.2L654.7 543.2L654.4 537.2L654.1 531.2L653.8 525.2L653.5 519.2L653.1 513.2L652.7 507.2L652.3 501.2L651.8 495.2L651.3 489.2L650.7 483.2L650.1 477.2L649.5 471.2L648.8 465.2L648.1 459.2L647.3 453.2L646.4 447.2L645.5 441.2L644.5 435.2L643.4 429.2L642.2 423.2L640.9 417.2L639.4 411.2L637.8 405.2L636.1 399.2L634.3 393.2L632.3 387.2L630.2 381.2L628.0 375.2L626.9 372.2L625.8 369.2L624.7 366.2L623.5 363.2L622.3 360.2L621.0 357.2L619.8 354.2L618.5 351.2L617.1 348.2L615.8 345.2L614.5 342.2L613.1 339.2L611.6 336.2L610.1 333.2L608.4 330.2L607.5 328.8L606.6 327.2L605.7 325.8L604.6 324.2L603.5 322.8L602.3 321.2L601.0 319.8L599.7 318.2L598.3 316.8L597.6 316.0" stroke="#ff00ff" stroke-width="1.15" fill="none" stroke-linejoin="round" stroke-dasharray="10.6 7.95" stroke-dashoffset="11.85"/>
<path d="M599.0 706.0L599.0 700.0L599.0 694.0L599.0 688.0L599.0 682.0L599.0 676.0L599.1 670.0L599.1 664.0L599.1 658.0L599.1 652.0L599.2 646.0L599.2 640.0L599.3 634.0L599.3 628.0L599.4 622.0L599.5 616.0L599.5 610.0L599.6 604.0L599.7 598.0L599.8 592.0L600.0 586.0L600.1 580.0L600.3 574.0L600.5 568.0L600.8 562.0L601.0 556.0L601.3 550.0L601.5 544.0L601.8 538.0L602.1 532.0L602.4 526.0L602.8 520.0L603.2 514.0L603.6 508.0L604.1 502.0L604.6 496.0L605.2 490.0L605.9 484.0L606.6 478.0L607.4 472.0L608.2 466.0L609.0 460.0L609.7 454.0L610.5 448.0L611.3 442.0L612.2 436.0L613.3 430.0L614.5 424.0L615.7 418.0L617.1 412.0L618.6 406.0L620.3 400.0L622.1 394.0L624.0 388.0L626.1 382.0L627.2 379.0L628.4 376.0L629.6 373.0L630.8 370.0L632.2 367.0L633.5 364.0L635.0 361.0L636.5 358.0L638.0 355.0L639.5 352.0L641.1 349.0L642.8 346.0L644.5 343.0L646.4 340.0L648.4 337.0L649.4 335.5L650.6 334.0L651.7 332.5L653.0 331.0L654.4 329.5L655.8 328.0L657.3 326.5L658.8 325.0L659.2 324.6L659.6 325.0L661.3 326.5L662.9 328.0L664.5 329.5L666.0 331.0L667.4 332.5L668.6 334.0L669.8 335.5L670.8 337.0L672.8 340.0L674.6 343.0L676.3 346.0L677.9 349.0L679.5 352.0L681.1 355.0L682.7 358.0L684.3 361.0L685.9 364.0L687.5 367.0L689.0 370.0L690.6 373.0L692.1 376.0L693.5 379.0L695.0 382.0L697.7 388.0L700.3 394.0L702.8 400.0L705.3 406.0L707.6 412.0L709.8 418.0L711.8 424.0L713.6 430.0L715.2 436.0L716.8 442.0L718.3 448.0L719.7 454.0L721.0 460.0L722.2 466.0L723.3 472.0L724.3 478.0L725.3 484.0L726.1 490.0L726.9 496.0L727.6 502.0L728.3 508.0L728.8 514.0L729.4 520.0L730.0 526.0L730.7 532.0L731.4 538.0L732.1 544.0L732.7 550.0L733.2 556.0L733.7 562.0L734.2 568.0L734.6 574.0L735.0 580.0L735.4 586.0L735.7 592.0L735.9 598.0L736.2 604.0L736.5 610.0L736.7 616.0L736.9 622.0L737.0 628.0L737.1 634.0L737.1 640.0L737.1 646.0L737.1 652.0L737.1 658.0L737.1 664.0L737.1 670.0L737.1 676.0L737.1 682.0L737.1 688.0L737.0 694.0L737.0 700.0L737.0 706.0" stroke="#000000" stroke-width="1.15" fill="none" stroke-linejoin="round"/>
<path d="M661.7 706.0L661.7 700.0L661.7 694.0L661.7 688.0L661.7 682.0L661.7 676.0L661.7 670.0L661.7 664.0L661.7 658.0L661.7 652.0L661.7 646.0L661.7 640.0L661.7 634.0L661.7 628.0L661.8 622.0L661.9 616.0L662.1 610.0L662.2 604.0L662.3 598.0L662.4 592.0L662.5 586.0L662.6 580.0L662.7 574.0L662.8 568.0L662.9 562.0L663.2 556.0L663.5 550.0L663.9 544.0L664.3 538.0L664.7 532.0L665.1 526.0L665.6 520.0L666.1 514.0L666.7 508.0L667.3 502.0L667.9 496.0L668.6 490.0L669.3 484.0L670.1 478.0L671.0 472.0L672.0 466.0L673.1 460.0L674.2 454.0L675.3 448.0L676.5 442.0L677.8 436.0L679.1 430.0L680.4 424.0L682.0 418.0L683.9 412.0L686.2 406.0L688.6 400.0L691.2 394.0L692.6 391.0L694.1 388.0L695.6 385.0L697.2 382.0L698.8 379.0L700.4 376.0L702.1 373.0L703.9 370.0L705.8 367.0L707.7 364.0L709.8 361.0L712.0 358.0L714.2 355.0L716.6 352.0L719.2 349.0L720.6 347.5L722.1 346.0L723.7 344.5L725.4 343.0L727.3 341.5L729.5 340.0L731.9 338.5L734.4 337.0L736.5 335.8L740.6 335.8L748.5 342.6" stroke="#000000" stroke-width="1.15" fill="none" stroke-linejoin="round"/>
<path d="M739.8 706.0L740.3 665.0L742.0 616.0L743.9 573.0L747.5 544.0L748.5 537.0" stroke="#000000" stroke-width="1.15" fill="none" stroke-linejoin="round"/>
<path d="M214.4 706.0L215.2 529.3L227.0 522.5L227.5 706.0" stroke="#000000" stroke-width="1.15" fill="none" stroke-linejoin="round"/>
<path d="M229.9 706.0L230.7 534.5L242.6 527.9L243.1 706.0" stroke="#000000" stroke-width="1.15" fill="none" stroke-linejoin="round"/>
<path d="M245.6 706.0L246.4 537.8L266.4 530.2L266.9 706.0" stroke="#000000" stroke-width="1.15" fill="none" stroke-linejoin="round"/>
<path d="M269.2 706.0L270.0 541.6L277.8 538.3L278.3 706.0" stroke="#000000" stroke-width="1.15" fill="none" stroke-linejoin="round"/>
<path d="M280.8 706.0L281.6 548.4L289.7 544.6L290.2 706.0" stroke="#000000" stroke-width="1.15" fill="none" stroke-linejoin="round"/>
<path d="M293.2 706.0L293.6 554.3L297.9 552.2L301.2 564.1L305.2 549.7L317.1 545.9L317.6 706.0" stroke="#000000" stroke-width="1.15" fill="none" stroke-linejoin="round"/>
<path d="M320.7 706.0L321.2 555.3L328.8 552.5L329.3 706.0" stroke="#000000" stroke-width="1.15" fill="none" stroke-linejoin="round"/>
<path d="M332.1 706.0L332.6 561.9L340.2 558.8L340.7 706.0" stroke="#000000" stroke-width="1.15" fill="none" stroke-linejoin="round"/>
<path d="M352.6 553.5L352.6 706.0" stroke="#000000" stroke-width="1.15" fill="none" stroke-linejoin="round"/>
<path d="M301.2 692.6L301.2 706.0" stroke="#000000" stroke-width="1.15" fill="none" stroke-linejoin="round"/>
<path d="M96.6 705.2L97.0 516.0L104.6 514.2L111.7 511.9L116.5 509.3L121.5 506.4L127.3 501.3L131.5 498.2L135.7 495.1L141.0 489.3L144.6 484.9L144.8 570.0L146.0 706.0" stroke="#0000ff" stroke-width="1.15" fill="none" stroke-linejoin="round" stroke-dasharray="10.6 7.95" stroke-dashoffset="0"/>
<path d="M147.5 705.2L148.4 509.2L154.2 504.5L161.8 497.2L167.2 490.8L172.5 485.3L172.6 706.0" stroke="#ff0000" stroke-width="1.15" fill="none" stroke-linejoin="round" stroke-dasharray="10.6 7.95" stroke-dashoffset="0"/>
<path d="M175.0 705.2L175.8 510.0" stroke="#00ff00" stroke-width="1.15" fill="none" stroke-linejoin="round" stroke-dasharray="10.6 7.95" stroke-dashoffset="0"/>
<path d="M175.8 510.0L179.1 512.6L180.9 532.0L182.7 574.0L184.2 646.0L184.4 706.0" stroke="#00ff00" stroke-width="1.15" fill="none" stroke-linejoin="round" stroke-dasharray="10.6 7.95" stroke-dashoffset="14.9703"/>
<path d="M179.2 705.2L180.8 646.0L182.7 570.0L184.4 538.0L187.5 516.6L188.4 530.0L189.3 555.0L190.3 578.0L191.8 706.0" stroke="#00ffff" stroke-width="1.15" fill="none" stroke-linejoin="round" stroke-dasharray="10.6 7.95" stroke-dashoffset="0"/>
<path d="M191.8 705.2L192.2 555.0L194.1 536.0L196.0 527.5L201.7 522.7L210.2 517.9" stroke="#ff00ff" stroke-width="1.15" fill="none" stroke-linejoin="round" stroke-dasharray="10.6 7.95" stroke-dashoffset="0"/>
<path d="M211.2 518.5L211.3 523.0L211.8 560.0L211.8 706.0" stroke="#ff00ff" stroke-width="1.15" fill="none" stroke-linejoin="round" stroke-dasharray="10.6 7.95" stroke-dashoffset="13.2488"/>
</g>
<g style="opacity:0.999">
<text transform="translate(39.32 144.60) scale(1.1200 1)" fill="#000" font-size="23" letter-spacing="0.057">0.1</text>
<text transform="translate(25.22 334.00) scale(1.1200 1)" fill="#000" font-size="23" letter-spacing="0.401">0.01</text>
<text transform="translate(11.32 523.50) scale(1.1200 1)" fill="#000" font-size="23" letter-spacing="0.529">0.001</text>
<text transform="translate(-6.68 712.90) scale(1.1200 1)" fill="#000" font-size="23" letter-spacing="1.337">0.0001</text>
<text transform="translate(79.53 731.60) scale(1.1079 1)" fill="#000" font-size="23">0</text>
<text transform="translate(243.12 731.60) scale(1.1200 1)" fill="#000" font-size="23" letter-spacing="0.147">0.1</text>
<text transform="translate(417.02 731.60) scale(1.1200 1)" fill="#000" font-size="23" letter-spacing="1.206">0.2</text>
<text transform="translate(591.22 731.60) scale(1.1200 1)" fill="#000" font-size="23" letter-spacing="0.932">0.3</text>
<text transform="translate(436.15 156.50) scale(0.8645 1)" fill="#000000" font-size="23">1</text>
<text transform="translate(115.37 324.70) scale(1.2147 1)" fill="#0000ff" font-size="23">2</text>
<text transform="translate(138.46 254.70) scale(1.1262 1)" fill="#ff0000" font-size="23">3</text>
<text transform="translate(199.82 229.10) scale(1.0756 1)" fill="#00ff00" font-size="23">4</text>
<text transform="translate(239.16 243.00) scale(1.1549 1)" fill="#00ffff" font-size="23">5</text>
<text transform="translate(300.11 256.40) scale(1.0991 1)" fill="#ff00ff" font-size="23">6</text>
<text transform="translate(337.73 269.60) scale(1.2337 1)" fill="#000000" font-size="23">7</text>
<text transform="translate(391.11 279.20) scale(1.1284 1)" fill="#0000ff" font-size="23">8</text>
<text transform="translate(443.32 288.90) scale(1.1920 1)" fill="#ff0000" font-size="23">9</text>
<text transform="translate(487.74 292.90) scale(1.1200 1)" fill="#00ff00" font-size="23" letter-spacing="0.165">10</text>
<text transform="translate(540.14 300.50) scale(1.1200 1)" fill="#00ffff" font-size="23" letter-spacing="-0.936">11</text>
<text transform="translate(592.34 310.00) scale(1.1200 1)" fill="#ff00ff" font-size="23" letter-spacing="0.737">12</text>
<text transform="translate(644.64 315.80) scale(1.1200 1)" fill="#000000" font-size="23" letter-spacing="0.277">13</text>
<text transform="translate(124.49 517.40) scale(1.1489 1)" fill="#0000ff" font-size="23">8</text>
<text transform="translate(157.90 523.40) scale(1.0799 1)" fill="#ff0000" font-size="23">9</text>
<text transform="translate(357.95 761.60) scale(1.0791 1)" fill="#000" font-size="23.3">&lt;</text>
<text transform="translate(373.70 761.60) scale(1.1500 1)" fill="#000" font-size="23.3" letter-spacing="1.102">sin</text>
<text transform="translate(407.34 755.90) scale(1.5819 1)" fill="#000" font-size="12.3" stroke="#000" stroke-width="0.35">2</text>
<text transform="translate(427.63 761.60) scale(0.9566 1)" fill="#000" font-size="23.3">i</text>
<text transform="translate(435.58 761.60) scale(1.1160 1)" fill="#000" font-size="23.3">&gt;</text>
<text transform="translate(449.48 756.00) scale(1.5000 1)" fill="#000" font-size="12.3" letter-spacing="1.421" stroke="#000" stroke-width="0.35">1/2</text>
<text transform="translate(19.00 486.82) rotate(-90) scale(1.1500 1)" fill="#000" font-size="23.3" letter-spacing="0.610">fraction</text>
<text transform="translate(19.00 382.52) rotate(-90) scale(1.1500 1)" fill="#000" font-size="23.3" letter-spacing="0.783">of</text>
<text transform="translate(19.00 349.30) rotate(-90) scale(1.1500 1)" fill="#000" font-size="23.3" letter-spacing="0.161">systems</text>
</g>
</svg>
</body></html>
